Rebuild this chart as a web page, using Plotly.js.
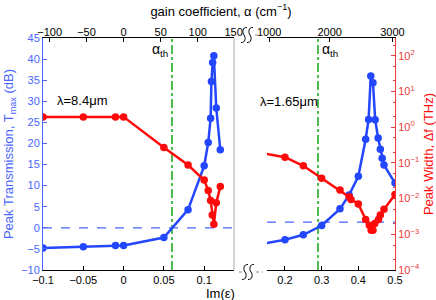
<!DOCTYPE html>
<html><head><meta charset="utf-8">
<script src="https://cdn.plot.ly/plotly-3.0.1.min.js"></script>
<style>html,body{margin:0;padding:0;background:#fff}#c{width:436px;height:300px}</style>
</head><body><div id="c"></div>
<script>
// ---- data ----
const imLeftBlue = [-0.1, -0.05, -0.01, 0, 0.05, 0.08, 0.1, 0.105, 0.108, 0.109, 0.1105, 0.112, 0.115, 0.12];
const tmaxLeft   = [-4.8, -4.5, -4.2, -4.2, -2.3, 4.3, 14.7, 20.2, 26, 34.7, 39.2, 40.8, 28.4, 18.5];
const imLeftRed  = [-0.1, -0.05, -0.01, 0, 0.05, 0.08, 0.1, 0.105, 0.108, 0.11, 0.112, 0.115, 0.12];
const widthLeft  = [1.95, 1.95, 1.95, 1.95, 0.27, 0.087, 0.033, 0.017, 0.0089, 0.0035, 0.0019, 0.0076, 0.022];
const imRightBlue = [0.1, 0.2, 0.25, 0.3, 0.35, 0.375, 0.4, 0.42, 0.428, 0.434, 0.44, 0.446, 0.454, 0.46, 0.465, 0.47, 0.5];
const tmaxRight   = [-4.4, -2.84, -1.66, 0.55, 4.5, 7.8, 12.2, 21, 25.7, 36, 34.4, 25.6, 21.3, 18.6, 16.5, 14.9, 10.6];
const imRightRed  = [0.1, 0.2, 0.25, 0.3, 0.35, 0.375, 0.38, 0.4, 0.42, 0.43, 0.435, 0.44, 0.445, 0.455, 0.46, 0.47, 0.5];
const widthRight  = [0.22, 0.145, 0.083, 0.037, 0.0174, 0.0112, 0.0095, 0.0071, 0.0026, 0.0018, 0.0013, 0.0013, 0.002, 0.0026, 0.0035, 0.005, 0.013];
const alphaThIm = [0.06, 0.29];
const zeroDb = [0, 1.35];
const alphaTickTextLeft = ['\u2212100', '\u221250', '0', '50', '100', '150'];
const alphaTickPosLeft  = [-0.0917, -0.046, 0, 0.046, 0.092, 0.1365];
const alphaTickTextRight = ['1000', '2000', '3000'];
const alphaTickPosRight  = [0.157, 0.322, 0.493];
const logTickVals = [1e-4, 1e-3, 1e-2, 1e-1, 1, 10, 100];
const logTickText = ['10<sup>\u22124</sup>','10<sup>\u22123</sup>','10<sup>\u22122</sup>','10<sup>\u22121</sup>','10<sup>0</sup>','10<sup>1</sup>','10<sup>2</sup>'];
const labels = {left: '\u03bb=8.4\u03bcm', right: '\u03bb=1.65\u03bcm', th: '\u03b1<sub>th</sub>'};

// ---- style ----
const FONT = 'Liberation Sans, Arial, Helvetica, sans-serif';
const BLUE = '#2346ff', BLUE_AX = '#4a66ff', RED = '#ff0a0a', RED_AX = '#ee3b3b', GREEN = '#3cb43c';
const L = 43, R = 395, T = 38, B = 270;
const px = x => (x - L) / (R - L);
const py = y => (B - y) / (B - T);

const mk = {size: 7.5};
const traces = [
  {x: imLeftBlue, y: tmaxLeft, xaxis: 'x', yaxis: 'y', mode: 'lines+markers', line: {color: BLUE, width: 2.5}, marker: Object.assign({color: BLUE}, mk)},
  {x: imRightBlue, y: tmaxRight, xaxis: 'x2', yaxis: 'y', mode: 'lines+markers', line: {color: BLUE, width: 2.5}, marker: Object.assign({color: BLUE}, mk)},
  {x: imLeftRed, y: widthLeft, xaxis: 'x', yaxis: 'y2', mode: 'lines+markers', line: {color: RED, width: 2.5}, marker: Object.assign({color: RED}, mk)},
  {x: imRightRed, y: widthRight, xaxis: 'x2', yaxis: 'y2', mode: 'lines+markers', line: {color: RED, width: 2.5}, marker: Object.assign({color: RED}, mk)},
  // carriers for the top (gain coefficient) axes, nothing drawn
  {x: imLeftBlue, y: tmaxLeft, xaxis: 'x3', yaxis: 'y', mode: 'none', hoverinfo: 'skip'},
  {x: imRightBlue, y: tmaxRight, xaxis: 'x4', yaxis: 'y', mode: 'none', hoverinfo: 'skip'}
];

function squiggle(cx, cy) {
  const p = (x, y) => px(x).toFixed(4) + ',' + py(y).toFixed(4);
  return 'M' + p(cx + 3, cy - 7.5) + ' C' + p(cx - 1.5, cy - 8) + ' ' + p(cx - 2, cy - 2.5) + ' ' + p(cx, cy) +
         ' C' + p(cx + 2, cy + 2.5) + ' ' + p(cx + 1.5, cy + 8) + ' ' + p(cx - 3, cy + 7.5);
}
const shapes = [];
shapes.push({type: 'line', xref: 'x domain', x0: 0, x1: 1, yref: 'y', y0: zeroDb[0], y1: zeroDb[0], line: {color: BLUE_AX, width: 1.3, dash: 'dash'}, layer: 'below'});
shapes.push({type: 'line', xref: 'x2 domain', x0: 0, x1: 1, yref: 'y', y0: zeroDb[1], y1: zeroDb[1], line: {color: BLUE_AX, width: 1.3, dash: 'dash'}, layer: 'below'});
shapes.push({type: 'line', xref: 'x', x0: alphaThIm[0], x1: alphaThIm[0], yref: 'y domain', y0: 0, y1: 1, line: {color: GREEN, width: 1.8, dash: 'dashdot'}, layer: 'below'});
shapes.push({type: 'line', xref: 'x2', x0: alphaThIm[1], x1: alphaThIm[1], yref: 'y domain', y0: 0, y1: 1, line: {color: GREEN, width: 1.8, dash: 'dashdot'}, layer: 'below'});
shapes.push({type: 'line', xref: 'x domain', x0: 1, x1: 1, yref: 'y domain', y0: 0, y1: 1, line: {color: '#aaaaaa', width: 1}});
[[35, 244, 250], [272, 245, 251]].forEach(([cy, a, b]) => {
  shapes.push({type: 'path', xref: 'paper', yref: 'paper', path: squiggle(a, cy), line: {color: '#000', width: 1}});
  shapes.push({type: 'path', xref: 'paper', yref: 'paper', path: squiggle(b, cy), line: {color: '#000', width: 1}});
  shapes.push({type: 'line', xref: 'paper', yref: 'paper', x0: px(b + 5), x1: px(b + 12), y0: py(cy), y1: py(cy), line: {color: '#888', width: 1, dash: 'dot'}});
  shapes.push({type: 'line', xref: 'paper', yref: 'paper', x0: px(a - 6), x1: px(a - 3), y0: py(cy), y1: py(cy), line: {color: '#888', width: 1, dash: 'dot'}});
});

const ax = {showgrid: false, zeroline: false, showline: true, linecolor: '#000', linewidth: 1, ticks: 'inside', ticklen: 4, tickcolor: '#000', tickfont: {family: FONT, size: 11, color: '#000'}};
const ann = (text, x, y, xanchor, size) => ({text: text, xref: 'paper', yref: 'paper', x: px(x), y: py(y), xanchor: xanchor, yanchor: 'middle', showarrow: false, font: {family: FONT, size: size, color: '#000'}});
const layout = {
  width: 436, height: 300,
  margin: {l: L, r: 436 - R, t: T, b: 300 - B, pad: 0},
  paper_bgcolor: '#fff', plot_bgcolor: 'rgba(0,0,0,0)',
  showlegend: false,
  font: {family: FONT, size: 11},
  title: {text: 'gain coefficient, \u03b1 (cm<sup>\u22121</sup>)', font: {family: FONT, size: 13, color: '#000'}, xref: 'paper', x: px(221), xanchor: 'center', yref: 'container', y: 1 - 11 / 300, yanchor: 'middle'},
  xaxis: Object.assign({}, ax, {domain: [0, px(234)], range: [-0.1, 0.137], anchor: 'y', tickmode: 'linear', tick0: -0.1, dtick: 0.05}),
  xaxis2: Object.assign({}, ax, {domain: [px(267), 1], range: [0.151, 0.5], anchor: 'y', tickvals: [0.2, 0.3, 0.4, 0.5], ticktext: ['0.2', '0.3', '0.4', '0.5']}),
  xaxis3: Object.assign({}, ax, {overlaying: 'x', side: 'top', anchor: 'y', range: [-0.1, 0.137], autorange: false, tickvals: alphaTickPosLeft, ticktext: alphaTickTextLeft, ticklabelstandoff: -3}),
  xaxis4: Object.assign({}, ax, {overlaying: 'x2', side: 'top', anchor: 'y', range: [0.151, 0.5], autorange: false, tickvals: alphaTickPosRight, ticktext: alphaTickTextRight, ticklabelstandoff: -3}),
  yaxis: Object.assign({}, ax, {domain: [0, 1], range: [-10, 45], dtick: 5, anchor: 'x', linecolor: BLUE_AX, tickcolor: BLUE_AX, tickfont: {family: FONT, size: 11, color: BLUE_AX},
    title: {text: 'Peak Transmission, T<sub>max</sub> (dB)', font: {family: FONT, size: 13, color: BLUE_AX}, standoff: 4}}),
  yaxis2: Object.assign({}, ax, {type: 'log', range: [-4, 2.5], overlaying: 'y', side: 'right', anchor: 'x2', linecolor: RED_AX, tickcolor: RED_AX,
    tickvals: logTickVals, ticktext: logTickText, tickfont: {family: FONT, size: 11, color: RED_AX},
    minor: {ticks: 'inside', ticklen: 2, tickcolor: RED_AX, showgrid: false},
    title: {text: 'Peak Width, \u0394f (THz)', font: {family: FONT, size: 13, color: RED}, standoff: 4}}),
  shapes: shapes,
  annotations: [
    ann('Im(\u03b5)', 220, 293, 'center', 13),
    ann(labels.left, 55, 100, 'left', 13),
    ann(labels.right, 258, 101, 'left', 13),
    ann(labels.th, 170, 50, 'right', 14),
    ann(labels.th, 320, 50, 'left', 14)
  ]
};
Plotly.newPlot('c', traces, layout, {displayModeBar: false, staticPlot: true});
</script></body></html>
